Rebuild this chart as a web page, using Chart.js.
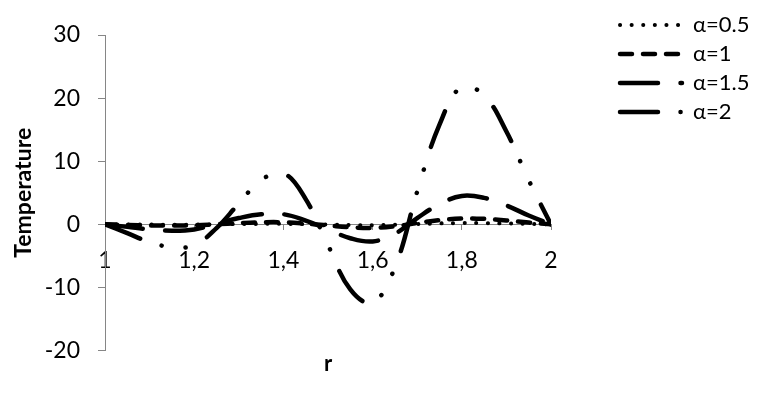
<!DOCTYPE html>
<html>
<head>
<meta charset="utf-8">
<script src="https://cdn.jsdelivr.net/npm/chart.js@4.4.1/dist/chart.umd.min.js"></script>
<style>
  body { margin: 0; background: #fff; }
</style>
</head>
<body>
<canvas id="tempChart" width="761" height="394"></canvas>
<script>
// radius values
var rValues = [1, 1.05, 1.1, 1.15, 1.2, 1.25, 1.3, 1.35, 1.4, 1.45, 1.5,
               1.55, 1.6, 1.65, 1.7, 1.75, 1.8, 1.85, 1.9, 1.95, 2];

// temperature for each alpha
var tAlpha05 = [0, -0.02, -0.04, -0.05, -0.04, 0, 0.05, 0.08, 0.08, 0.03, -0.04,
                -0.1, -0.13, -0.07, 0.05, 0.15, 0.21, 0.2, 0.14, 0.07, 0];
var tAlpha1 = [0, -0.08, -0.16, -0.2, -0.16, 0.02, 0.2, 0.33, 0.33, 0.12, -0.17,
               -0.46, -0.56, -0.31, 0.21, 0.66, 0.92, 0.87, 0.62, 0.29, 0];
var tAlpha15 = [0, -0.4, -0.8, -1.0, -0.8, 0.1, 1.0, 1.6, 1.6, 0.6, -0.8,
                -2.2, -2.7, -1.5, 1.0, 3.2, 4.5, 4.2, 3.0, 1.4, 0];
var tAlpha2 = [0, -1.4, -2.8, -3.6, -3.3, -0.6, 3.3, 7.0, 8.1, 4.0, -3.3,
               -10.3, -12.4, -6.8, 5.2, 15.8, 21.8, 20.4, 14.7, 7.0, 0];

var seriesNames = ["α=0.5", "α=1", "α=1.5", "α=2"];

var gray = "#868686";
Chart.defaults.font.family = "Lato";
Chart.defaults.font.size = 23;
Chart.defaults.color = "#000";

function toPoints(vals) {
    return vals.map(function(v, i) { return {x: rValues[i], y: v}; });
}

function lineSet(label, vals, width, dash) {
    return {
        label: label,
        data: toPoints(vals),
        borderColor: "#000",
        backgroundColor: "#000",
        borderWidth: width,
        borderDash: dash,
        borderCapStyle: "round",
        borderJoinStyle: "round",
        pointRadius: 0,
        tension: 0.4,
        fill: false
    };
}

// move the legend off the plot, like the excel layout
var legendShift = {
    id: 'legendShift',
    afterLayout: function(chart) {
        chart.legend.left += 62;
        chart.legend.right += 62;
    }
};

var config = {
    type: 'line',
    data: {
        datasets: [
            lineSet(seriesNames[0], tAlpha05, 4, [0.1, 11.5]),
            lineSet(seriesNames[1], tAlpha1, 4.5, [12, 11]),
            lineSet(seriesNames[2], tAlpha15, 4.5, [38, 22.5]),
            lineSet(seriesNames[3], tAlpha2, 4.5, [38, 22.5, 0.1, 24, 0.1, 24])
        ]
    },
    options: {
        responsive: false,
        animation: false,
        layout: { padding: { top: 7, right: 0, bottom: 0, left: 0 } },
        plugins: {
            tooltip: { enabled: false },
            legend: {
                position: 'right',
                align: 'start',
                labels: {
                    usePointStyle: true,
                    pointStyle: 'line',
                    pointStyleWidth: 62,
                    padding: 7,
                    color: "#000",
                    font: { size: 22 },
                    generateLabels: function(chart) {
                        var items = Chart.defaults.plugins.legend.labels.generateLabels(chart);
                        items.forEach(function(it) {
                            var ds = chart.data.datasets[it.datasetIndex];
                            it.lineDash = ds.borderDash;
                            it.lineDashOffset = 0;
                            it.lineCap = 'round';
                            it.lineWidth = ds.borderWidth;
                        });
                        return items;
                    }
                }
            }
        },
        scales: {
            x: {
                type: 'linear',
                position: { y: 0 },
                min: 1,
                max: 2,
                border: { color: gray, width: 1 },
                grid: { drawOnChartArea: false, drawTicks: true, tickLength: 5, color: gray },
                ticks: {
                    stepSize: 0.2,
                    padding: 17,
                    maxRotation: 0,
                    callback: function(v) {
                        return (Math.round(v * 10) / 10).toString().replace('.', ',');
                    }
                }
            },
            x2: {
                type: 'linear',
                position: 'bottom',
                min: 1,
                max: 2,
                border: { display: false },
                grid: { display: false, drawTicks: false },
                ticks: { display: false },
                title: {
                    display: true,
                    text: 'r',
                    font: { weight: 'bold', size: 22 },
                    padding: { top: 0, bottom: 17 }
                },
                afterFit: function(s) { s.paddingRight = 210; }
            },
            y: {
                min: -20,
                max: 30,
                border: { color: gray, width: 1 },
                grid: { drawOnChartArea: false, drawTicks: true, tickLength: 7, color: gray },
                ticks: { stepSize: 10, padding: 18 },
                title: {
                    display: true,
                    text: 'Temperature',
                    font: { weight: 'bold', size: 23 },
                    padding: { top: 10, bottom: 0 }
                },
                afterFit: function(s) { s.width = 105; s.paddingTop = 35; }
            }
        }
    },
    plugins: [legendShift]
};

var ctx = document.getElementById("tempChart");
var tempChart = new Chart(ctx, config);
</script>
</body>
</html>
